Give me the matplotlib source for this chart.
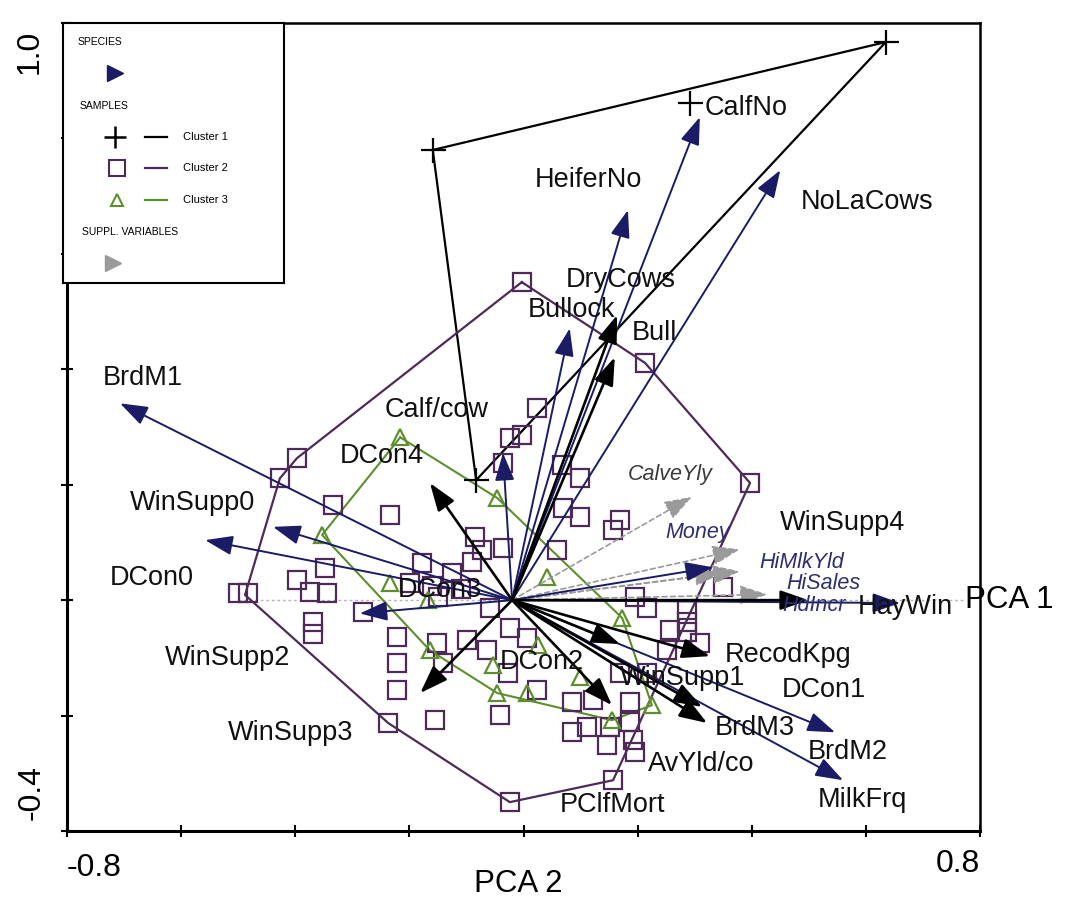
import matplotlib
matplotlib.use("Agg")
import matplotlib.pyplot as plt
import numpy as np

plt.rcParams['font.family'] = ['Liberation Sans', 'DejaVu Sans']

# ---------------- data ----------------
arrow_origin = (-0.02, 0.0)

species_navy_names = ["BrdM1", "WinSupp0", "DCon0", "DCon3", "Calf/cow", "Bullock",
                      "HeiferNo", "CalfNo", "NoLaCows", "WinSupp4", "HayWin", "BrdM2", "MilkFrq"]
species_navy_x = [-0.707, -0.439, -0.558, -0.287, -0.036, 0.081, 0.183, 0.309, 0.450, 0.332, 0.660, 0.546, 0.560]
species_navy_y = [0.341, 0.127, 0.104, -0.023, 0.255, 0.471, 0.676, 0.837, 0.745, 0.057, -0.005, -0.229, -0.312]

species_black_names = ["DCon4", "DryCows", "Bull", "DCon1", "RecodKpg", "WinSupp1",
                       "BrdM3", "DCon2", "AvYld/co", "WinSupp3"]
species_black_x = [-0.164, 0.164, 0.160, 0.499, 0.327, 0.313, 0.322, 0.169, 0.155, -0.181]
species_black_y = [0.203, 0.494, 0.421, 0.000, -0.097, -0.185, -0.213, -0.076, -0.182, -0.161]

suppl_names = ["CalveYly", "Money", "HiMlkYld", "HiSales", "HdIncr"]
suppl_x = [0.295, 0.379, 0.379, 0.427, 0.348]
suppl_y = [0.179, 0.088, 0.050, 0.010, 0.047]

# cluster 1 (crosses)
c1_x = [-0.159, 0.635, 0.292, -0.083]
c1_y = [0.780, 0.967, 0.861, 0.208]
c1_hull_x = [-0.159, 0.635, -0.083]
c1_hull_y = [0.780, 0.967, 0.208]

# cluster 2 (squares)
c2_x = [-0.003, 0.213, 0.397, 0.157, -0.024, -0.237, -0.500, -0.483, -0.427, -0.397,
        0.024, -0.024, -0.003, -0.036, 0.067, 0.099, 0.069, 0.099, 0.169, 0.157,
        -0.234, -0.334, -0.085, -0.073, -0.036, 0.059, -0.178, -0.090, -0.199, -0.125,
        -0.397, -0.348, -0.374, -0.344, -0.369, -0.369, -0.281, -0.222, -0.222, -0.222,
        -0.059, -0.152, -0.099, -0.064, -0.024, 0.006, -0.141, -0.027, 0.024, -0.155,
        -0.041, 0.085, 0.085, 0.195, 0.216, 0.287, 0.287, 0.287, 0.257, 0.251,
        0.309, 0.350, 0.122, 0.187, 0.152, 0.187, 0.111, 0.146, 0.192, 0.195,
        0.216, 0.169, -0.160, -0.110, -0.150]
c2_y = [0.551, 0.411, 0.203, -0.312, -0.350, -0.213, 0.012, 0.012, 0.211, 0.246,
        0.333, 0.281, 0.286, 0.237, 0.234, 0.211, 0.159, 0.144, 0.139, 0.121,
        0.147, 0.165, 0.109, 0.087, 0.090, 0.087, 0.064, 0.066, 0.029, 0.047,
        0.035, 0.055, 0.014, 0.012, -0.038, -0.059, -0.021, -0.064, -0.109, -0.156,
        -0.014, -0.075, -0.069, -0.087, -0.049, -0.066, -0.109, -0.127, -0.156, -0.208,
        -0.199, -0.177, -0.229, 0.005, -0.014, -0.017, -0.038, -0.055, -0.052, -0.087,
        -0.075, 0.023, -0.173, -0.177, -0.220, -0.211, -0.220, -0.251, -0.243, -0.263,
        -0.127, -0.127, 0.025, 0.020, 0.005]
c2_hull_x = [-0.003, 0.213, 0.397, 0.157, -0.024, -0.237, -0.488, -0.427, -0.397]
c2_hull_y = [0.551, 0.411, 0.203, -0.312, -0.350, -0.213, 0.009, 0.211, 0.246]

# cluster 3 (triangles)
c3_x = [-0.216, -0.046, 0.173, 0.225, 0.155, -0.046, -0.164, -0.353,
        -0.234, -0.167, 0.041, 0.025, -0.053, 0.006, 0.099]
c3_y = [0.282, 0.177, -0.031, -0.182, -0.208, -0.161, -0.087, 0.113,
        0.029, 0.000, 0.040, -0.078, -0.113, -0.161, -0.133]
c3_hull_x = [-0.216, -0.046, 0.173, 0.225, 0.155, -0.046, -0.164, -0.353]
c3_hull_y = [0.282, 0.177, -0.031, -0.182, -0.208, -0.161, -0.087, 0.113]

# labels: text, x (left), y (centre)
label_text = ["BrdM1", "WinSupp0", "DCon0", "Calf/cow", "DCon4", "HeiferNo", "CalfNo",
              "NoLaCows", "DryCows", "Bullock", "Bull", "WinSupp4", "HayWin", "DCon3",
              "RecodKpg", "DCon2", "WinSupp1", "DCon1", "BrdM3", "BrdM2", "AvYld/co",
              "MilkFrq", "PClfMort", "WinSupp2", "WinSupp3"]
label_x = [-0.737, -0.690, -0.725, -0.243, -0.322, 0.020, 0.318, 0.485, 0.074, 0.008,
           0.190, 0.450, 0.586, -0.220, 0.353, -0.041, 0.169, 0.453, 0.336, 0.499,
           0.218, 0.516, 0.064, -0.628, -0.518]
label_y = [0.385, 0.168, 0.038, 0.329, 0.250, 0.728, 0.853, 0.690, 0.555, 0.503,
           0.463, 0.133, -0.012, 0.017, -0.095, -0.107, -0.135, -0.156, -0.222, -0.263,
           -0.284, -0.347, -0.355, -0.101, -0.231]

suppl_label_text = ["CalveYly", "Money", "HiMlkYld", "HiSales", "HdIncr"]
suppl_label_x = [0.183, 0.248, 0.414, 0.460, 0.453]
suppl_label_y = [0.218, 0.118, 0.066, 0.029, -0.009]
suppl_label_col = ["#3a3a3a", "#2e2e70", "#2e2e70", "#2e2e70", "#2e2e70"]

x_ticks = [-0.8, -0.6, -0.4, -0.2, 0.0, 0.2, 0.4, 0.6, 0.8]
y_ticks = [-0.4, -0.2, 0.0, 0.2, 0.4, 0.6, 0.8, 1.0]

# ---------------- styling ----------------
NAVY = "#1b1b66"
PURPLE = "#4e2a58"
GREEN = "#5e8f2e"
GRAY = "#9a9a9a"
LBL = 19.5

fig = plt.figure(figsize=(10.88, 9.01), dpi=100)
ax = fig.add_axes([67/1088, 70/901, 913/1088, 808/901])
ax.set_xlim(-0.8, 0.8)
ax.set_ylim(-0.4, 1.0)
ax.set_xticks(x_ticks)
ax.set_yticks(y_ticks)
ax.set_xticklabels([])
ax.set_yticklabels([])
ax.tick_params(direction='inout', length=9, width=1.5)
for s in ['left', 'bottom']:
    ax.spines[s].set_linewidth(2.2)
for s in ['top', 'right']:
    ax.spines[s].set_linewidth(1.8)

# PCA 1 dotted reference line
ax.plot([-0.50, 0.77], [0.0, 0.0], color="#b5b5b5", lw=1.0, ls=(0, (2, 2)), zorder=1)

# polygons
def closed(xs, ys):
    return list(xs) + [xs[0]], list(ys) + [ys[0]]

px, py = closed(c1_hull_x, c1_hull_y)
ax.plot(px, py, color="black", lw=1.6, zorder=2)
px, py = closed(c2_hull_x, c2_hull_y)
ax.plot(px, py, color=PURPLE, lw=1.6, zorder=2)
px, py = closed(c3_hull_x, c3_hull_y)
ax.plot(px, py, color=GREEN, lw=1.5, zorder=2)

# samples
ax.plot(c2_x, c2_y, ls='none', marker='s', ms=13, mfc='none', mec=PURPLE, mew=1.6, zorder=3)
ax.plot(c3_x, c3_y, ls='none', marker='^', ms=11, mfc='none', mec=GREEN, mew=1.6, zorder=3)
ax.plot(c1_x, c1_y, ls='none', marker='+', ms=18, mec='black', mew=1.6, zorder=3)

# arrows
def arrow(x, y, color, ls='-', lw=1.5):
    ax.annotate("", xy=(x, y), xytext=arrow_origin,
                arrowprops=dict(arrowstyle="-|>,head_length=0.85,head_width=0.3",
                                mutation_scale=20, color=color, lw=lw, ls=ls,
                                shrinkA=0, shrinkB=0),
                zorder=4)

for x, y in zip(suppl_x, suppl_y):
    arrow(x, y, GRAY, ls=(0, (3, 2)), lw=1.2)
for x, y in zip(species_navy_x, species_navy_y):
    arrow(x, y, NAVY, lw=1.4)
for x, y in zip(species_black_x, species_black_y):
    arrow(x, y, "black", lw=1.9)

# labels
for t, x, y in zip(label_text, label_x, label_y):
    ax.text(x, y, t, fontsize=LBL, ha='left', va='center', color='#111111', zorder=5)
for t, x, y, c in zip(suppl_label_text, suppl_label_x, suppl_label_y, suppl_label_col):
    ax.text(x, y, t, fontsize=15.5, ha='left', va='center', color=c, style='italic', zorder=5)

ax.text(0.774, 0.0, "PCA 1", fontsize=22.5, ha='left', va='center', clip_on=False)

# axis value labels
fig.text(67/1088, 1 - 868/901, "-0.8", fontsize=23, ha='left', va='center')
fig.text(980/1088, 1 - 864/901, "0.8", fontsize=23, ha='right', va='center')
fig.text(518/1088, 1 - 884/901, "PCA 2", fontsize=22.5, ha='center', va='center')
fig.text(30/1088, 1 - 52/901, "1.0", fontsize=23, ha='center', va='center', rotation=90)
fig.text(32/1088, 1 - 793/901, "-0.4", fontsize=23, ha='center', va='center', rotation=90)

# legend box
lg = fig.add_axes([63/1088, 1 - 283/901, 221/1088, 260/901])
lg.set_xlim(0, 221)
lg.set_ylim(260, 0)
lg.set_xticks([])
lg.set_yticks([])
for s in lg.spines.values():
    s.set_linewidth(1.5)
lg.text(15, 19, "SPECIES", fontsize=7.5, va='center')
lg.plot([52], [50], marker='>', ms=12, color=NAVY, ls='none')
lg.text(17, 83, "SAMPLES", fontsize=7.5, va='center')
lg.plot([52], [114], marker='+', ms=16, mew=1.8, color='black', ls='none')
lg.plot([82, 104], [114, 114], color='black', lw=1.6)
lg.text(120, 114, "Cluster 1", fontsize=8, va='center')
lg.plot([54], [145], marker='s', ms=12, mfc='none', mec=PURPLE, mew=1.5, ls='none')
lg.plot([82, 104], [145, 145], color=PURPLE, lw=1.6)
lg.text(120, 145, "Cluster 2", fontsize=8, va='center')
lg.plot([54], [177], marker='^', ms=9, mfc='none', mec=GREEN, mew=1.5, ls='none')
lg.plot([82, 104], [177, 177], color=GREEN, lw=1.6)
lg.text(120, 177, "Cluster 3", fontsize=8, va='center')
lg.text(19, 209, "SUPPL. VARIABLES", fontsize=7.5, va='center')
lg.plot([50], [240], marker='>', ms=12, color=GRAY, ls='none')

fig.savefig("out.png", dpi=100)
